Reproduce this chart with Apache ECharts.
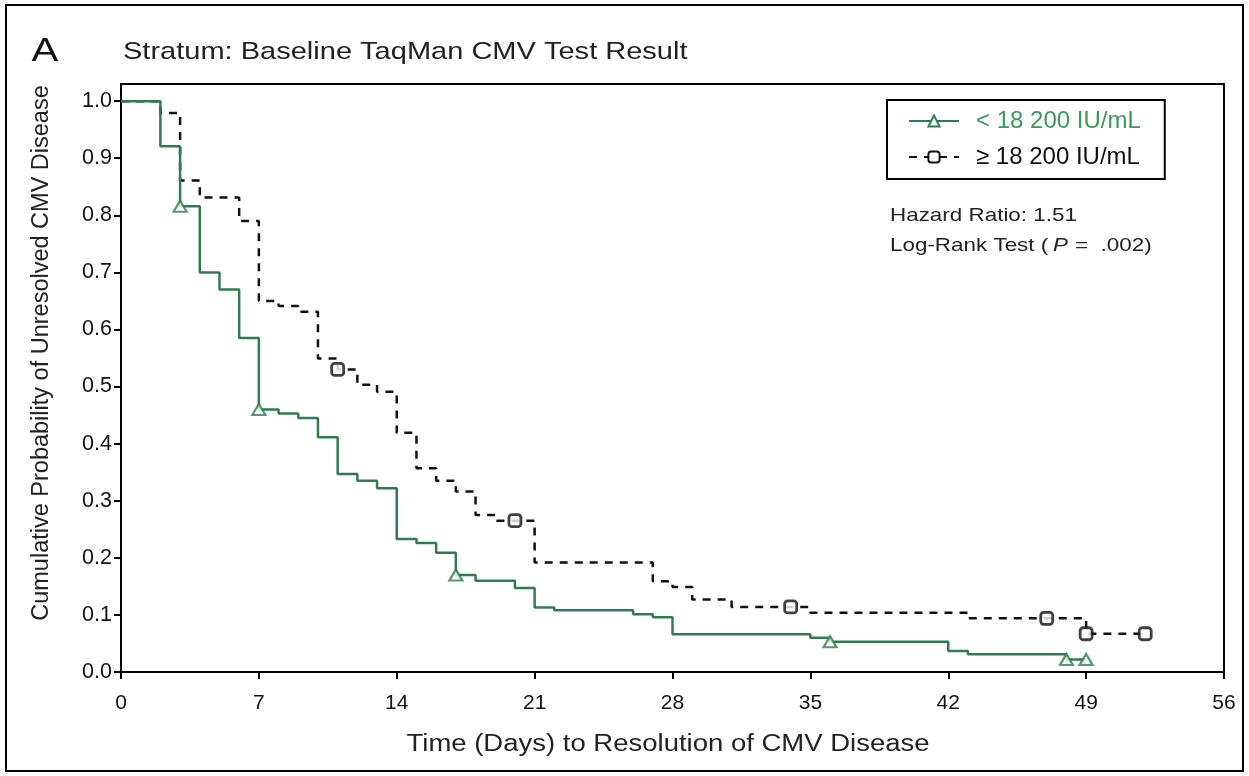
<!DOCTYPE html>
<html>
<head>
<meta charset="utf-8">
<title>Stratum: Baseline TaqMan CMV Test Result</title>
<script src="https://cdn.jsdelivr.net/npm/echarts@6/dist/echarts.min.js"></script>
<style>
  html, body { margin: 0; padding: 0; background: #fff; }
  #chart { width: 1249px; height: 776px; }
</style>
</head>
<body>
<div id="chart"></div>
<script>
// Kaplan-Meier estimates: event days and survival after each step
const lowTimes = [0, 2, 3, 4, 5, 6, 7, 8, 9, 10, 11, 12, 13, 14, 15, 16, 17, 18, 20, 21, 22, 26, 27, 28, 35, 36, 42, 43, 48, 49];
const lowSurv  = [1.0, 0.921, 0.816, 0.700, 0.670, 0.585, 0.460, 0.453, 0.445, 0.411, 0.347, 0.335, 0.322, 0.233, 0.226, 0.209, 0.170, 0.160, 0.147, 0.113, 0.108, 0.101, 0.096, 0.066, 0.060, 0.053, 0.037, 0.031, 0.022, 0.022];
const lowCensored = [3, 7, 17, 36, 48, 49];

const highTimes = [0, 2, 3, 4, 6, 7, 8, 9, 10, 11, 12, 13, 14, 15, 16, 17, 18, 19, 21, 27, 28, 29, 31, 35, 43, 49, 52];
const highSurv  = [1.0, 0.979, 0.861, 0.831, 0.790, 0.650, 0.641, 0.631, 0.549, 0.530, 0.503, 0.491, 0.419, 0.357, 0.335, 0.316, 0.275, 0.265, 0.192, 0.159, 0.149, 0.127, 0.114, 0.104, 0.094, 0.067, 0.067];
const highCensored = [11, 20, 34, 47, 49, 52];

const xTicks = [0, 7, 14, 21, 28, 35, 42, 49, 56];
const yTicks = [0.0, 0.1, 0.2, 0.3, 0.4, 0.5, 0.6, 0.7, 0.8, 0.9, 1.0];

const lowName = '< 18 200 IU/mL';
const highName = '\u2265 18 200 IU/mL';

const GREEN = '#2f7d4e';
const GREEN_TEXT = '#3a9a5b';
const FONT = '"Liberation Sans", Arial, Helvetica, sans-serif';
const STRETCH = 1.18;

// value of a step survival curve at day t
function survAt(times, surv, t) {
  let v = surv[0];
  for (let i = 0; i < times.length; i++) {
    if (times[i] <= t) v = surv[i];
  }
  return v;
}

const lowLine = lowTimes.map((t, i) => [t, lowSurv[i]]);
const highLine = highTimes.map((t, i) => [t, highSurv[i]]);
const lowMarks = lowCensored.map(t => [t, survAt(lowTimes, lowSurv, t)]);
const highMarks = highCensored.map(t => [t, survAt(highTimes, highSurv, t)]);

const chart = echarts.init(document.getElementById('chart'));

chart.setOption({
  backgroundColor: '#fff',
  animation: false,
  textStyle: { fontFamily: FONT },
  grid: {
    left: 121, right: 25, top: 84, bottom: 104,
    show: true, borderColor: '#000', borderWidth: 2
  },
  xAxis: {
    type: 'value', min: 0, max: 56, interval: 7,
    axisLine: { lineStyle: { color: '#000', width: 2 } },
    axisTick: { show: true, inside: false, length: 7, lineStyle: { color: '#000', width: 2 } },
    axisLabel: {
      color: '#111', fontSize: 21, fontFamily: FONT, margin: 21,
      customValues: xTicks,
      formatter: v => String(v)
    },
    splitLine: { show: false }
  },
  yAxis: {
    type: 'value', min: 0, max: 1.03,
    axisLine: { show: true, lineStyle: { color: '#000', width: 2 } },
    axisTick: { show: true, inside: false, length: 7, lineStyle: { color: '#000', width: 2 }, customValues: yTicks },
    axisLabel: {
      color: '#111', fontSize: 21.5, fontFamily: FONT, margin: 9,
      customValues: yTicks,
      formatter: v => v.toFixed(1)
    },
    splitLine: { show: false }
  },
  legend: {
    orient: 'vertical',
    left: 887, top: 100,
    data: [
      { name: lowName, textStyle: { color: GREEN_TEXT } },
      { name: highName, textStyle: { color: '#111' } }
    ],
    itemWidth: 50, itemHeight: 14, itemGap: 12,
    padding: [9, 24, 10, 21],
    borderColor: '#000', borderWidth: 2,
    textStyle: { fontSize: 24, fontFamily: FONT, padding: [0, 0, 0, 12] },
    selectedMode: false
  },
  series: [
    {
      name: lowName, type: 'line', step: 'end',
      data: lowLine,
      showSymbol: false, symbol: 'triangle',
      lineStyle: { color: GREEN, width: 2.5 },
      itemStyle: { color: '#fff', borderColor: GREEN, borderWidth: 2 },
      z: 3
    },
    {
      name: highName, type: 'line', step: 'end',
      data: highLine,
      showSymbol: false, symbol: 'roundRect',
      lineStyle: { color: '#111', width: 2.5, type: [8, 7] },
      itemStyle: { color: '#fff', borderColor: '#111', borderWidth: 2.5 },
      z: 2
    },
    {
      name: 'censored low', type: 'scatter',
      data: lowMarks,
      symbol: 'triangle', symbolSize: [13, 11],
      itemStyle: { color: '#fff', borderColor: GREEN, borderWidth: 2.2 },
      z: 5
    },
    {
      name: 'censored high', type: 'scatter',
      data: highMarks,
      symbol: 'roundRect', symbolSize: 12,
      itemStyle: { color: '#fff', borderColor: '#111', borderWidth: 2.8 },
      z: 4
    }
  ],
  graphic: [
    {
      type: 'rect', silent: true,
      shape: { x: 6, y: 5, width: 1237, height: 766 },
      style: { fill: 'none', stroke: '#000', lineWidth: 2 }
    },
    {
      type: 'text', x: 45, y: 52, scaleX: STRETCH,
      style: { text: 'A', fontSize: 34, fontFamily: FONT, fill: '#111', align: 'center', verticalAlign: 'middle' }
    },
    {
      type: 'text', x: 123, y: 52, scaleX: STRETCH,
      style: { text: 'Stratum: Baseline TaqMan CMV Test Result', fontSize: 24.6, fontFamily: FONT, fill: '#222', align: 'left', verticalAlign: 'middle' }
    },
    {
      type: 'text', x: 668, y: 745, scaleX: STRETCH,
      style: { text: 'Time (Days) to Resolution of CMV Disease', fontSize: 23.3, fontFamily: FONT, fill: '#222', align: 'center', verticalAlign: 'middle' }
    },
    {
      type: 'text', x: 42, y: 353, rotation: Math.PI / 2,
      style: { text: 'Cumulative Probability of Unresolved CMV Disease', fontSize: 23.5, fontFamily: FONT, fill: '#222', align: 'center', verticalAlign: 'middle' }
    },
    {
      type: 'text', x: 890, y: 216, scaleX: STRETCH,
      style: { text: 'Hazard Ratio: 1.51', fontSize: 19, fontFamily: FONT, fill: '#222', align: 'left', verticalAlign: 'middle' }
    },
    {
      type: 'text', x: 890, y: 246, scaleX: STRETCH,
      style: {
        text: 'Log-Rank Test ({i|P}=  .002)', fontSize: 19, fontFamily: FONT, fill: '#222', align: 'left', verticalAlign: 'middle',
        rich: { i: { fontStyle: 'italic', fontSize: 19, fontFamily: FONT, fill: '#222', padding: [0, 6, 0, 4] } }
      }
    }
  ]
});
</script>
</body>
</html>
